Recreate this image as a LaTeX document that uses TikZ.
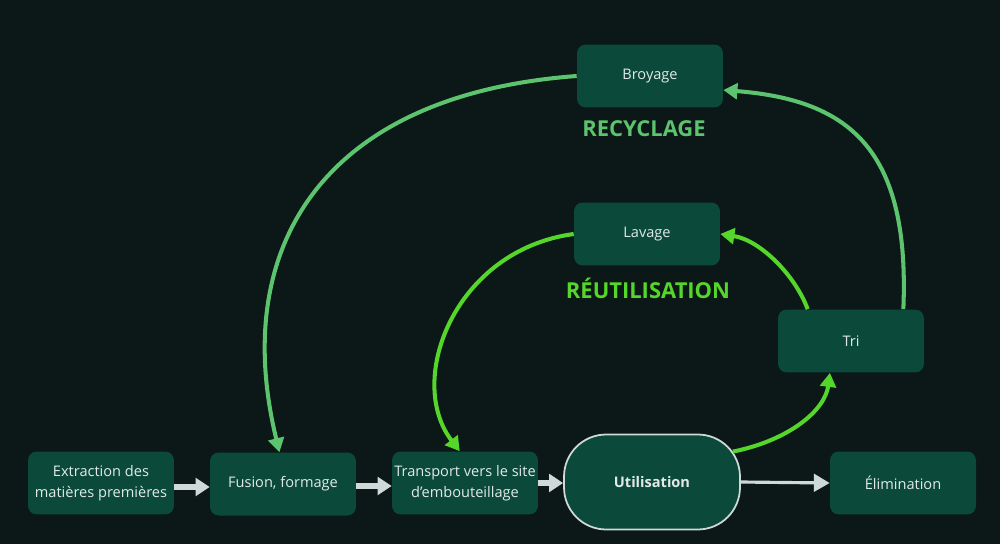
\documentclass[tikz,border=0pt]{standalone}
\usepackage{fontspec}
\setmainfont{Open Sans}
\usetikzlibrary{arrows.meta}

\definecolor{bgcol}{HTML}{0C1717}
\definecolor{boxcol}{HTML}{0B4A3A}
\definecolor{txtcol}{HTML}{E2EAE8}
\definecolor{greycol}{HTML}{CFD9D8}
\definecolor{recycol}{HTML}{5CC46E}
\definecolor{reuscol}{HTML}{55D62A}

\begin{document}
\begin{tikzpicture}[x=0.02cm, y=-0.02cm,
    stepbox/.style={fill=boxcol, rounded corners=5pt, minimum width=2.92cm, minimum height=1.26cm,
        text=txtcol, font=\fontsize{8.3}{12}\selectfont, align=center, inner sep=1pt},
    flow/.style={draw=greycol, line width=3.4pt, -{Triangle[length=8pt, width=10pt]}},
    recyarrow/.style={draw=recycol, line width=2.3pt, -{Triangle[length=8pt, width=9pt]}},
    reusarrow/.style={draw=reuscol, line width=2.3pt, -{Triangle[length=8pt, width=9pt]}},
    title/.style={font=\fontsize{12.5}{14}\selectfont\bfseries}]
            %\draw[lightgray] (0, 0) grid[step=50] (1000, 544);
            \fill[bgcol] (0, 0) rectangle (1000, 544);
            \useasboundingbox (0, 0) rectangle (1000, 544);

            \node[stepbox] (extraction) at (101, 483) {Extraction des\\mati\`eres premi\`eres};
            \node[stepbox] (fusion) at (283, 484) {Fusion, formage};
            \node[stepbox] (transport) at (465, 483) {Transport vers le site\\d’embouteillage};
            \node[stepbox, draw=greycol, line width=1pt, rounded corners=24pt, minimum width=3.52cm,
                minimum height=1.9cm, font=\fontsize{8.3}{12}\selectfont\bfseries] (utilisation) at (652, 482) {Utilisation};
            \node[stepbox] (elimination) at (903, 483) {\'Elimination};
            \node[stepbox] (tri) at (851, 341) {Tri};
            \node[stepbox] (lavage) at (647, 234) {Lavage};
            \node[stepbox] (broyage) at (650, 76) {Broyage};

            \node[title, text=recycol] (recyclage) at (644, 129) {RECYCLAGE};
            \node[title, text=reuscol] (reutilisation) at (648, 288) {R\'EUTILISATION};

            \draw[flow] (extraction.east |- 0, 487) -- (fusion.west |- 0, 487);
            \draw[flow] (fusion.east |- 0, 486) -- (transport.west |- 0, 486);
            \draw[flow] (transport.east |- 0, 483) -- (utilisation.west |- 0, 483);
            \draw[draw=greycol, line width=1.8pt, -{Triangle[length=9pt, width=10pt]}] (utilisation.east) -- (elimination.west);

            \draw[reusarrow] (utilisation.north east) ++(-8, 18) .. controls (790, 440) and (825, 410) .. ([xshift=-12pt]tri.south);
            \draw[reusarrow] (tri.north west) ++(30, 0) .. controls (795, 275) and (760, 240) .. (lavage.east);
            \draw[reusarrow] (lavage.west) .. controls (455, 250) and (405, 380) .. ([xshift=-3pt]transport.north);

            \draw[recyarrow] (tri.north east) ++(-21, 0) .. controls (910, 150) and (850, 100) .. ([yshift=-8pt]broyage.east);
            \draw[recyarrow] (broyage.west) .. controls (320, 95) and (230, 250) .. ([xshift=-2pt]fusion.north);
        \end{tikzpicture}
\end{document}
